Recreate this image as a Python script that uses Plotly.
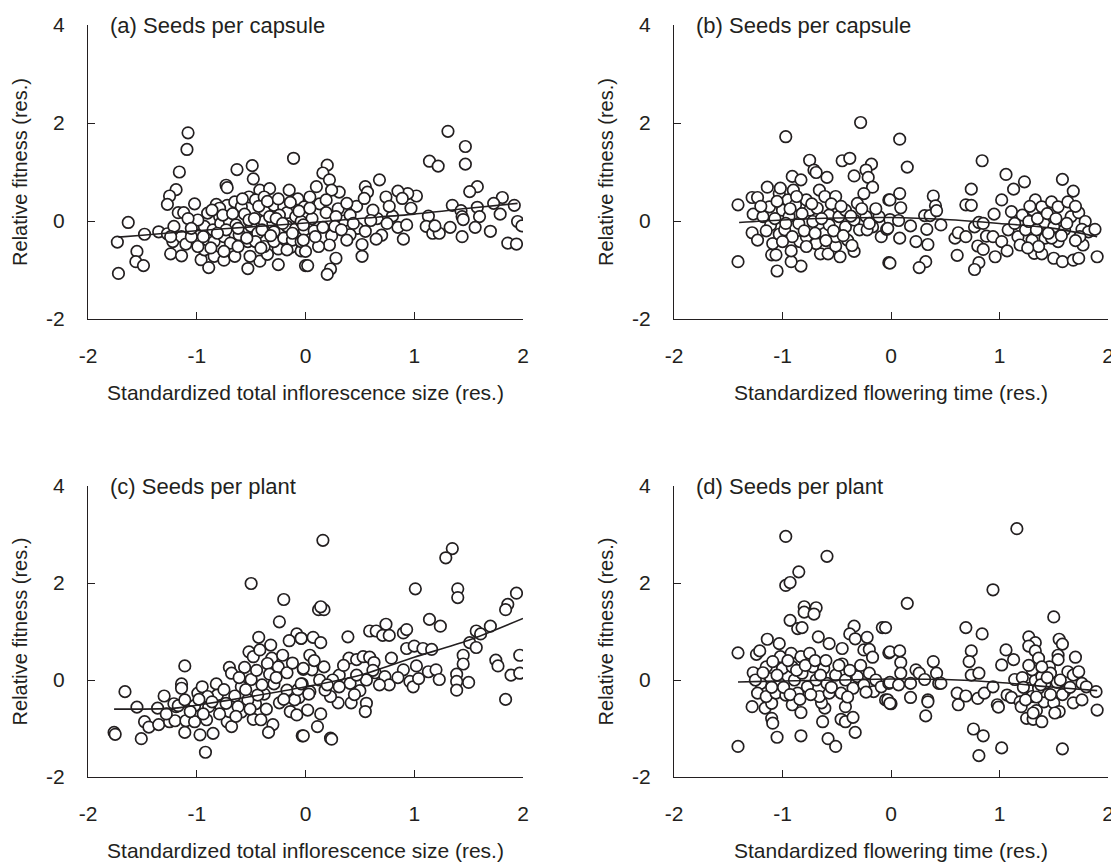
import plotly.graph_objects as go

# ---------------- data ----------------
x_ticks = [-2, -1, 0, 1, 2]
x_tick_text = ["-2", "-1", "0", "1", "2"]
y_ticks = [-2, 0, 2, 4]
y_tick_text = ["-2", "0", "2", "4"]

panel_titles = ["(a) Seeds per capsule", "(b) Seeds per capsule",
                "(c) Seeds per plant", "(d) Seeds per plant"]
x_titles = ["Standardized total inflorescence size (res.)", "Standardized flowering time (res.)",
            "Standardized total inflorescence size (res.)", "Standardized flowering time (res.)"]
y_title = "Relative fitness (res.)"

pts_a = [
    (-1.08, 1.80), (-1.09, 1.46), (-1.16, 1.00), (-1.19, 0.64), (-1.25, 0.51), (-1.27, 0.34),
    (-1.63, -0.03), (-1.73, -0.43), (-1.72, -1.07), (-1.55, -0.62), (-1.56, -0.83), (-1.49, -0.91),
    (-1.48, -0.27), (-1.35, -0.22), (-1.27, -0.26), (-1.21, -0.11), (-1.22, -0.42), (-1.24, -0.67),
    (-1.14, -0.71), (-1.17, 0.17), (-1.12, 0.17), (-1.14, -0.32), (-1.10, -0.47), (-1.05, -0.32),
    (-1.02, 0.35), (-0.98, -0.06), (-0.96, -0.79), (-0.89, -0.95), (-0.93, -0.59), (-0.84, -0.72),
    (-0.82, 0.34), (-0.73, 0.73), (-0.72, 0.68), (-0.63, 1.05), (-0.49, 1.13), (-0.48, 0.86),
    (-0.42, 0.63), (-0.33, 0.66), (-0.15, 0.63), (-0.11, 1.28), (-0.07, 0.45), (-0.53, -0.97),
    (-0.25, -0.89), (0.00, -0.91), (-0.42, -0.82), (-0.35, -0.68), (-0.75, -0.80), (-0.65, -0.72),
    (-0.51, -0.72), (-0.25, -0.57), (-0.13, -0.53), (-0.04, -0.61),
    (-0.90, 0.16), (-0.79, 0.09), (-0.72, 0.32), (-0.65, 0.39), (-0.59, 0.29), (-0.56, 0.14),
    (-0.52, 0.49), (-0.46, 0.43), (-0.38, 0.49), (-0.38, 0.22), (-0.29, 0.32), (-0.20, 0.29),
    (-0.17, 0.17), (-0.09, 0.09), (-0.01, 0.29), (-0.93, -0.11), (-0.85, -0.18), (-0.78, -0.05),
    (-0.70, -0.01), (-0.64, -0.08), (-0.56, -0.26), (-0.50, -0.11), (-0.44, -0.25), (-0.38, -0.01),
    (-0.30, -0.05), (-0.23, -0.25), (-0.17, -0.11), (-0.09, -0.15), (-0.01, -0.18), (-0.90, -0.39),
    (-0.84, -0.42), (-0.75, -0.32), (-0.69, -0.45), (-0.61, -0.28), (-0.53, -0.42), (-0.46, -0.42),
    (-0.38, -0.52), (-0.29, -0.42), (-0.20, -0.35), (-0.12, -0.39), (-0.04, -0.42), (-0.87, -0.55),
    (-0.75, -0.62), (-0.62, -0.52), (-0.41, -0.55), (-0.17, -0.59), (-1.24, -0.32), (-0.79, 0.26),
    (-0.33, 0.09), (-0.24, 0.12), (-0.73, -0.18), (-0.52, 0.02), (-0.29, -0.22), (-0.04, -0.01),
    (-0.99, -0.52), (-0.94, -0.32),
    (-0.99, 0.02), (-0.86, 0.22), (-0.81, -0.25), (-0.76, 0.12), (-0.67, 0.15), (-0.62, -0.15),
    (-0.58, 0.45), (-0.54, -0.35), (-0.47, 0.05), (-0.43, 0.30), (-0.40, -0.18), (-0.35, 0.40),
    (-0.32, -0.30), (-0.27, 0.05), (-0.25, 0.45), (-0.21, -0.05), (-0.14, 0.38), (-0.12, -0.25),
    (-0.06, 0.20), (0.06, 0.05), (0.08, -0.20), (0.13, 0.35), (0.24, -0.30), (0.30, 0.25),
    (0.35, 0.00), (0.47, 0.30), (0.48, -0.15), (0.66, 0.05), (0.80, 0.10), (-1.08, 0.05), (-1.05, -0.15),
    (1.31, 1.83), (1.47, 1.52), (1.47, 1.16), (1.14, 1.22), (1.22, 1.12), (1.58, 0.70), (1.51, 0.60),
    (1.81, 0.48), (1.73, 0.36), (1.92, 0.32), (1.35, 0.32), (1.43, 0.21), (1.44, 0.09), (1.45, 0.03),
    (1.58, 0.28), (1.60, 0.09), (1.79, 0.14), (1.95, -0.01), (1.99, -0.10), (1.70, -0.21),
    (1.56, -0.13), (1.44, -0.32), (1.33, -0.13), (1.86, -0.45), (1.94, -0.47), (1.13, 0.10),
    (1.11, -0.11), (1.17, -0.25), (1.23, -0.25), (1.19, -0.10), (0.90, -0.37), (0.85, -0.13),
    (0.93, -0.08), (0.97, 0.26), (1.02, 0.51), (0.94, 0.56), (0.85, 0.61), (0.89, 0.46), (0.68, 0.84),
    (0.74, 0.49), (0.77, 0.30), (0.75, -0.05), (0.70, -0.29), (0.65, -0.37), (0.55, 0.70), (0.57, 0.59),
    (0.54, 0.46), (0.62, 0.22), (0.60, 0.01), (0.55, -0.21), (0.52, -0.48), (0.52, -0.72), (0.41, 0.12),
    (0.41, -0.28), (0.38, 0.36), (0.31, 0.59), (0.20, 1.14), (0.16, 0.98), (0.22, 0.84), (0.24, 0.63),
    (0.10, 0.70), (0.04, 0.49), (0.19, 0.43), (0.04, 0.26), (0.19, 0.17), (0.28, 0.09), (0.16, -0.13),
    (0.27, -0.11), (-0.02, -0.08), (-0.02, -0.39), (0.00, -0.62), (0.02, -0.91), (0.22, -0.49),
    (0.28, -0.76), (0.23, -0.98), (0.20, -1.09), (0.12, -0.52), (0.38, -0.39), (0.33, -0.18),
    (0.09, -0.32), (0.44, -0.05),
]
fit_a = [(-1.72, -0.33), (-1.5, -0.29), (-1.0, -0.2), (-0.5, -0.12), (0.0, -0.04),
         (0.5, 0.05), (1.0, 0.14), (1.5, 0.26), (1.95, 0.36)]

pts_b = [
    (-0.97, 1.72), (-0.28, 2.01), (-1.41, 0.33), (-1.41, -0.83), (-1.05, -1.02), (-0.83, -0.92),
    (-0.92, -0.83), (-0.75, 1.24), (-0.71, 1.04), (-0.69, 0.99), (-0.59, 0.89), (-0.45, 1.23),
    (-0.38, 1.28), (-0.34, 0.92), (-0.18, 1.16), (-0.23, 1.04), (-0.21, 0.89), (-0.17, 0.69),
    (-0.25, 0.56), (-0.02, 0.43), (-0.02, -0.85), (-0.09, -0.32), (-0.04, -0.17), (-0.34, -0.62),
    (-0.47, -0.73), (-0.65, -0.67), (-0.58, -0.67), (-0.51, -0.51), (-1.10, -0.69), (-1.06, -0.69),
    (-1.09, -0.46), (-1.28, -0.24), (-1.23, -0.39), (-1.27, 0.14), (-1.28, 0.48), (-1.23, 0.48),
    (-1.14, 0.69), (-1.03, 0.56), (-1.02, 0.67), (-0.91, 0.91), (-0.83, 0.84), (-0.92, -0.61),
    (-0.84, -0.42), (-1.03, -0.27),
    (-1.18, 0.09), (-1.12, 0.29), (-1.11, -0.08), (-1.00, 0.22), (-0.95, 0.43), (-0.94, 0.09),
    (-0.90, 0.63), (-0.88, 0.33), (-0.85, -0.05), (-0.78, 0.43), (-0.75, 0.22), (-0.72, -0.01),
    (-0.66, 0.63), (-0.68, 0.26), (-0.61, 0.50), (-0.57, 0.12), (-0.51, 0.50), (-0.48, 0.09),
    (-0.42, 0.22), (-0.42, -0.12), (-0.34, 0.02), (-0.31, 0.36), (-0.23, 0.09), (-0.17, -0.12),
    (-0.11, 0.09), (-0.98, -0.18), (-0.91, -0.32), (-0.78, -0.32), (-0.69, -0.46), (-0.61, -0.25),
    (-0.57, -0.08), (-0.51, -0.32), (-0.40, -0.39), (-0.29, -0.18), (-0.22, -0.18), (-0.78, -0.52),
    (-1.00, -0.42),
    (-1.20, 0.30), (-1.15, -0.20), (-1.07, 0.05), (-1.05, 0.40), (-0.97, -0.05), (-0.93, 0.25),
    (-0.87, 0.50), (-0.82, 0.15), (-0.80, -0.20), (-0.73, 0.35), (-0.70, -0.25), (-0.64, 0.05),
    (-0.60, -0.40), (-0.55, 0.35), (-0.53, -0.20), (-0.46, 0.30), (-0.44, -0.30), (-0.37, 0.10),
    (-0.36, -0.50), (-0.27, 0.25), (-0.20, -0.05), (-0.14, 0.25),
    (0.08, 1.67), (0.15, 1.10), (-0.01, 0.43), (0.08, 0.56), (0.09, 0.27), (-0.01, 0.03), (0.07, 0.01),
    (-0.03, -0.15), (0.08, -0.35), (-0.01, -0.86), (0.18, -0.10), (0.23, -0.42), (0.34, -0.48),
    (0.33, -0.17), (0.31, 0.11), (0.36, 0.11), (0.39, 0.51), (0.41, 0.31), (0.42, 0.21), (0.46, -0.08),
    (0.32, -0.83), (0.26, -0.95), (0.61, -0.70), (0.59, -0.35), (0.62, -0.24), (0.69, -0.32),
    (0.69, 0.33), (0.74, 0.32), (0.74, 0.65), (0.84, 1.23), (0.77, -0.12), (0.81, -0.03), (0.85, -0.05),
    (0.80, -0.51), (0.85, -0.58), (0.81, -0.85), (0.77, -0.99), (0.88, -0.31), (0.94, -0.32),
    (0.95, 0.14), (1.02, 0.43), (1.06, 0.95), (1.13, 0.65), (1.23, 0.80), (0.96, -0.73), (1.02, -0.42),
    (1.07, -0.61), (1.11, 0.19), (1.17, -0.32), (1.19, -0.49), (1.21, 0.12), (1.30, -0.39), (1.33, 0.43),
    (1.31, 0.22), (1.39, 0.29), (1.41, -0.05), (1.42, -0.35), (1.32, -0.66), (1.39, -0.67), (1.48, 0.39),
    (1.54, 0.29), (1.58, 0.85), (1.68, 0.61), (1.63, 0.39), (1.50, -0.12), (1.54, -0.42), (1.50, -0.76),
    (1.58, -0.83), (1.68, -0.80), (1.73, -0.76), (1.66, 0.09), (1.73, 0.17), (1.79, -0.01), (1.76, -0.17),
    (1.82, -0.22), (1.88, -0.17), (1.77, -0.49), (1.74, -0.32), (1.90, -0.73), (1.24, -0.18),
    (1.27, -0.01), (1.34, -0.18), (1.48, -0.35), (1.60, -0.18), (1.08, -0.18), (1.14, -0.05),
    (1.36, -0.52),
    (1.28, 0.30), (1.35, 0.05), (1.44, 0.15), (1.45, -0.25), (1.52, 0.05), (1.57, -0.30),
    (1.62, -0.05), (1.70, -0.40), (1.70, 0.30), (1.26, -0.55),
]
fit_b = [(-1.4, -0.03), (-1.0, 0.02), (-0.5, 0.06), (0.0, 0.07), (0.5, 0.03),
         (1.0, -0.05), (1.5, -0.15), (1.9, -0.32)]

pts_c = [
    (-0.50, 1.99), (-0.20, 1.66), (-0.24, 1.20), (-0.08, 0.95), (-0.04, 0.86), (-0.15, 0.81),
    (-1.11, 0.29), (-1.66, -0.24), (-1.55, -0.56), (-1.76, -1.08), (-1.75, -1.12), (-1.51, -1.21),
    (-1.48, -0.86), (-1.44, -0.97), (-1.35, -0.92), (-1.36, -0.58), (-1.30, -0.33), (-1.25, -0.86),
    (-1.20, -0.84), (-1.14, -0.08), (-1.14, -0.17), (-1.19, -0.55), (-1.21, -0.49), (-1.17, -0.53),
    (-1.11, -0.41), (-1.10, -0.84), (-1.11, -1.08), (-1.02, -0.53), (-0.99, -0.27), (-0.95, -0.14),
    (-1.02, -0.86), (-0.97, -1.13), (-0.92, -1.49), (-0.91, -0.82), (-0.85, -1.10), (-0.89, -0.55),
    (-0.82, -0.08), (-0.81, -0.31), (-0.78, -0.53), (-0.72, -0.86), (-0.68, -0.96), (-0.70, -0.65),
    (-0.70, 0.26), (-0.68, 0.14), (-0.59, -0.14), (-0.56, 0.26), (-0.50, 0.01), (-0.59, -0.66),
    (-0.48, -0.81), (-0.41, -0.82), (-0.52, 0.58), (-0.48, 0.48), (-0.43, 0.88), (-0.42, 0.62),
    (-0.32, 0.72), (-0.31, 0.45), (-0.35, 0.34), (-0.33, 0.12), (-0.25, 0.27), (-0.21, 0.51),
    (-0.17, 0.15), (-0.29, -0.08), (-0.24, -0.47), (-0.30, -0.92), (-0.34, -1.08), (-0.46, -0.49),
    (-0.38, -0.29), (-0.14, -0.65), (-0.08, -0.72), (-0.06, -0.36), (-0.03, -0.08), (-0.02, 0.22),
    (-0.03, -1.15), (-0.65, -0.33), (-0.73, -0.48), (-0.62, -0.55), (-0.44, -0.31), (-0.17, -0.21),
    (-0.10, -0.41), (-0.53, -0.41), (-0.90, -0.34),
    (-1.28, -0.70), (-1.06, -0.65), (-0.98, -0.40), (-0.94, -0.70), (-0.86, -0.45), (-0.79, -0.70),
    (-0.75, -0.20), (-0.64, -0.75), (-0.61, 0.05), (-0.55, -0.20), (-0.51, -0.60), (-0.45, 0.20),
    (-0.40, -0.10), (-0.36, -0.60), (-0.27, 0.05), (-0.20, -0.40), (-0.12, 0.35), (-0.07, -0.20),
    (0.16, 2.88), (1.35, 2.71), (1.29, 2.52), (1.01, 1.88), (1.40, 1.88), (1.40, 1.70), (1.94, 1.79),
    (1.86, 1.56), (1.84, 1.45), (0.12, 1.45), (0.17, 1.45), (0.14, 1.51), (1.14, 1.25), (1.24, 1.11),
    (1.70, 1.11), (1.57, 1.01), (1.61, 0.95), (1.51, 0.77), (1.57, 0.67), (0.74, 1.15), (0.59, 1.01),
    (0.65, 1.01), (0.71, 0.92), (0.77, 0.92), (0.90, 0.97), (0.93, 1.04), (0.39, 0.89), (0.07, 0.88),
    (-0.04, 0.86), (0.14, 0.77), (0.93, 0.65), (1.00, 0.70), (1.08, 0.65), (1.16, 0.63), (1.45, 0.51),
    (1.45, 0.33), (1.75, 0.41), (1.77, 0.29), (1.97, 0.51), (1.89, 0.10), (1.97, 0.14), (1.39, 0.12),
    (1.39, -0.03), (1.39, -0.21), (1.50, -0.05), (1.84, -0.40), (1.02, 0.29), (0.90, 0.21), (0.96, -0.03),
    (0.99, -0.14), (1.04, 0.03), (1.13, 0.17), (1.20, 0.21), (1.23, 0.01), (0.79, 0.45), (0.40, 0.45),
    (0.47, 0.42), (0.53, 0.48), (0.59, 0.47), (0.63, 0.36), (0.64, 0.15), (0.73, 0.07), (0.77, -0.10),
    (0.68, -0.10), (0.56, 0.00), (0.50, -0.22), (0.56, -0.48), (0.55, -0.65), (0.42, -0.47), (0.41, -0.07),
    (0.47, 0.10), (0.31, 0.10), (0.30, -0.47), (0.23, -0.34), (0.23, -1.20), (0.24, -1.22), (0.11, -0.96),
    (0.14, -0.70), (-0.02, -1.15), (0.02, -0.62), (0.04, -0.24), (0.03, -0.29), (-0.04, -0.08),
    (0.04, 0.51), (0.06, 0.21), (0.17, 0.27), (0.18, -0.21), (0.13, 0.00), (0.25, 0.00), (0.31, -0.14),
    (-0.02, 0.24),
    (0.08, 0.40), (0.20, -0.10), (0.35, 0.30), (0.45, -0.30), (0.62, 0.20), (0.85, 0.05),
]
fit_c = [(-1.76, -0.60), (-1.5, -0.60), (-1.2, -0.58), (-1.0, -0.52), (-0.5, -0.34), (0.0, -0.14),
         (0.5, 0.10), (1.0, 0.47), (1.5, 0.82), (2.0, 1.27)]

pts_d = [
    (-0.97, 2.96), (-0.59, 2.55), (-0.85, 2.23), (-0.97, 1.95), (-0.93, 2.01), (-0.80, 1.51),
    (-0.80, 1.40), (-0.69, 1.49), (-0.71, 1.36), (-0.93, 1.23), (-0.86, 1.06), (-0.82, 1.08),
    (-0.67, 0.89), (-0.57, 0.75), (-0.34, 1.11), (-0.38, 0.95), (-0.33, 0.85), (-0.22, 0.88),
    (-0.08, 1.08), (-0.02, 0.56), (-0.25, 0.62), (-0.20, 0.63), (-0.17, 0.47), (-0.45, 0.65),
    (-0.45, 0.33), (-1.41, 0.56), (-1.41, -1.37), (-1.24, 0.53), (-1.21, 0.60), (-1.14, 0.84),
    (-1.03, 0.75), (-1.27, 0.15), (-1.28, -0.55), (-1.16, -0.58), (-1.10, -0.48), (-1.10, -0.79),
    (-1.09, -0.89), (-1.05, -1.18), (-0.83, -1.15), (-0.83, -0.67), (-0.63, -0.86), (-0.58, -1.21),
    (-0.51, -1.37), (-0.46, -0.81), (-0.42, -0.86), (-0.42, -0.55), (-0.35, -0.77), (-0.33, -1.08),
    (-0.05, -0.41), (0.00, -0.49), (-0.16, -0.24), (-0.61, -0.58), (-0.64, -0.47),
    (-1.15, 0.27), (-1.12, 0.03), (-1.20, -0.07), (-1.23, -0.27), (-1.15, -0.34), (-1.06, -0.27),
    (-1.02, 0.48), (-1.00, 0.24), (-1.03, -0.07), (-0.97, -0.31), (-0.92, 0.55), (-0.91, 0.27),
    (-0.89, 0.00), (-0.86, -0.27), (-0.91, -0.51), (-0.83, 0.48), (-0.82, 0.14), (-0.77, -0.14),
    (-0.75, 0.55), (-0.72, 0.27), (-0.69, 0.00), (-0.66, -0.34), (-0.62, 0.24), (-0.59, -0.07),
    (-0.57, -0.27), (-0.51, 0.10), (-0.46, -0.27), (-0.42, 0.00), (-0.35, -0.17), (-0.31, 0.07),
    (-0.25, -0.10), (-0.20, 0.14), (-0.14, 0.00), (-0.09, -0.14), (-0.02, -0.07), (-1.25, 0.00),
    (-1.09, 0.38),
    (-1.18, 0.15), (-1.10, -0.15), (-1.05, 0.10), (-0.99, -0.15), (-0.95, 0.40), (-0.93, -0.30),
    (-0.87, 0.20), (-0.84, -0.40), (-0.79, 0.30), (-0.74, -0.30), (-0.70, 0.40), (-0.65, 0.10),
    (-0.60, 0.40), (-0.55, -0.15), (-0.48, 0.30), (-0.40, -0.35), (-0.38, 0.20), (-0.28, 0.30),
    (-0.23, -0.25),
    (1.16, 3.12), (0.94, 1.86), (0.15, 1.58), (0.69, 1.08), (0.84, 0.95), (1.50, 1.30), (1.27, 0.89),
    (1.33, 0.77), (1.27, 0.70), (1.33, 0.60), (1.36, 0.45), (1.55, 0.84), (1.58, 0.74), (1.54, 0.51),
    (1.54, 0.42), (1.70, 0.47), (-0.05, 1.08), (-0.01, 0.58), (0.08, 0.60), (0.09, 0.36), (0.09, 0.14),
    (-0.01, -0.05), (0.07, -0.10), (-0.03, -0.41), (-0.01, -0.48), (0.18, -0.07), (0.18, -0.36),
    (0.23, 0.21), (0.26, 0.14), (0.31, 0.01), (0.39, 0.38), (0.42, 0.14), (0.44, -0.07), (0.46, -0.07),
    (0.34, -0.41), (0.34, -0.45), (0.32, -0.74), (0.74, 0.60), (0.72, 0.38), (0.74, 0.10), (0.81, 0.14),
    (0.61, -0.27), (0.62, -0.51), (0.69, -0.33), (0.80, -0.38), (0.86, -0.27), (0.76, -1.01),
    (0.85, -1.15), (0.81, -1.56), (1.02, -1.40), (1.58, -1.42), (0.94, -0.14), (0.98, -0.51),
    (0.99, -0.56), (1.02, 0.31), (1.06, 0.62), (1.13, 0.42), (1.14, 0.01), (1.07, -0.31), (1.11, -0.36),
    (1.19, -0.45), (1.20, -0.55), (1.21, 0.05), (1.28, -0.17), (1.25, -0.79), (1.31, -0.81),
    (1.39, -0.86), (1.34, -0.63), (1.31, -0.68), (1.41, -0.45), (1.41, -0.24), (1.46, 0.27), (1.47, 0.14),
    (1.53, -0.05), (1.50, -0.47), (1.55, -0.65), (1.51, -0.68), (1.60, -0.24), (1.63, 0.17), (1.68, 0.10),
    (1.73, 0.17), (1.68, -0.47), (1.76, -0.41), (1.76, -0.07), (1.80, -0.14), (1.89, -0.24),
    (1.90, -0.62), (1.33, -0.01), (1.39, 0.07), (1.30, -0.34), (1.36, -0.17), (1.24, -0.41),
    (1.42, -0.07), (1.30, 0.21), (1.39, 0.27),
    (1.27, 0.30), (1.34, -0.35), (1.38, -0.10), (1.44, 0.05), (1.47, -0.30), (1.56, 0.00),
    (1.58, -0.30), (1.65, -0.15), (1.22, -0.15),
]
fit_d = [(-1.41, -0.04), (-1.0, -0.02), (-0.5, 0.0), (0.0, 0.02), (0.5, 0.01),
         (1.0, -0.05), (1.5, -0.15), (1.9, -0.22)]

points = [pts_a, pts_b, pts_c, pts_d]
fits = [fit_a, fit_b, fit_c, fit_d]

# ---------------- layout ----------------
PAGE_OFFSET = 8                      # default body margin of the html page
W, H = 1119 - PAGE_OFFSET, 866 - PAGE_OFFSET
ink = "#231f20"
font_family = "Liberation Sans, Arial, Helvetica, sans-serif"

# panel plot-area boxes in page pixels: (left, right, top, bottom)
boxes = [(88, 523, 25, 319), (674, 1108, 25, 319),
         (88, 523, 486, 777), (674, 1108, 486, 777)]

fig = go.Figure()
layout = dict(
    width=W, height=H,
    margin=dict(l=0, r=0, t=0, b=0, autoexpand=False),
    paper_bgcolor="white", plot_bgcolor="white",
    showlegend=False,
    font=dict(family=font_family, size=21, color=ink),
    annotations=[],
)

for i in range(4):
    n = "" if i == 0 else str(i + 1)
    l, r, t, b = [v - PAGE_OFFSET for v in boxes[i]]
    xa = dict(
        domain=[l / W, r / W], range=[-2, 2], anchor="y" + n,
        showline=True, linecolor=ink, linewidth=1.3, mirror=False,
        showgrid=False, zeroline=False, automargin=False,
        ticks="inside", ticklen=7, tickwidth=1.3, tickcolor=ink,
        tickvals=x_ticks, ticktext=x_tick_text, tickfont=dict(size=21, color=ink),
        ticklabelstandoff=18,
        title=dict(text=x_titles[i], font=dict(size=21, color=ink), standoff=18),
    )
    ya = dict(
        domain=[1 - b / H, 1 - t / H], range=[-2, 4], anchor="x" + n,
        showline=True, linecolor=ink, linewidth=1.3, mirror=False,
        showgrid=False, zeroline=False, automargin=False,
        ticks="inside", ticklen=7, tickwidth=1.3, tickcolor=ink,
        tickvals=y_ticks, ticktext=y_tick_text, tickfont=dict(size=21, color=ink),
        ticklabelstandoff=18,
        title=dict(text=y_title, font=dict(size=20, color=ink), standoff=12),
    )
    layout["xaxis" + n] = xa
    layout["yaxis" + n] = ya

    px = [p[0] for p in points[i]]
    py = [p[1] for p in points[i]]
    fig.add_trace(go.Scatter(
        x=px, y=py, mode="markers", xaxis="x" + n, yaxis="y" + n,
        marker=dict(size=11.5, color="white", line=dict(color=ink, width=1.7)),
        hoverinfo="skip",
    ))
    fx = [p[0] for p in fits[i]]
    fy = [p[1] for p in fits[i]]
    fig.add_trace(go.Scatter(
        x=fx, y=fy, mode="lines", xaxis="x" + n, yaxis="y" + n,
        line=dict(color=ink, width=1.6, shape="spline", smoothing=0.8),
        hoverinfo="skip",
    ))
    layout["annotations"].append(dict(
        text=panel_titles[i], x=-1.82, y=4, xref="x" + n, yref="y" + n,
        xanchor="left", yanchor="middle", showarrow=False,
        font=dict(size=22, color=ink),
    ))

fig.update_layout(**layout)
fig.write_html("out.html")
